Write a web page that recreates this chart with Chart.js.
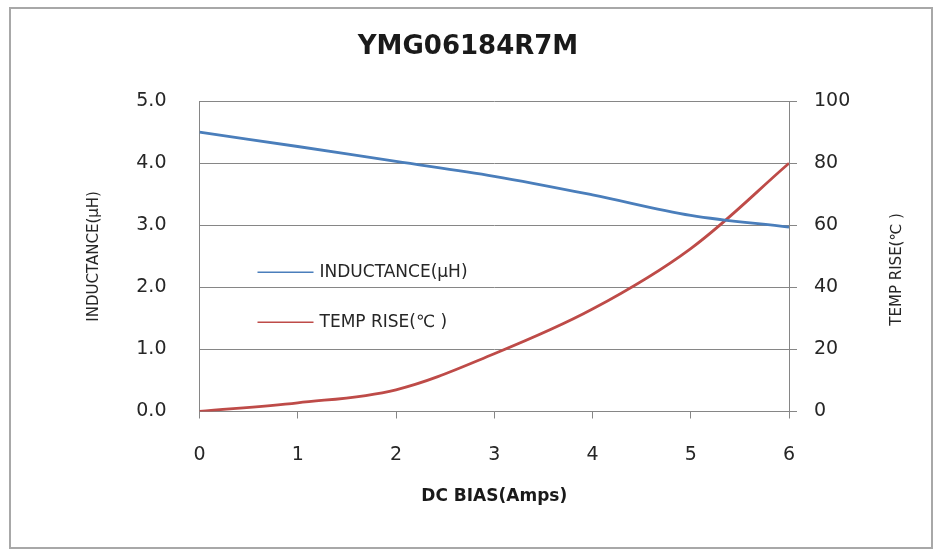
<!DOCTYPE html>
<html lang="en">
<head>
    <meta charset="UTF-8">
    <title>YMG06184R7M</title>
    <script src="https://cdn.jsdelivr.net/npm/chart.js"></script>
    <style>
        body { margin: 0; background: #fff; }
        canvas { display: block; }
    </style>
</head>
<body>
    <canvas id="chart" width="936" height="552"></canvas>

    <script>
        // DC bias points (Amps)
        const biasAmps = [0, 1, 2, 3, 4, 5, 6];
        // inductance, uH (left axis)
        const inductance = [4.5, 4.27, 4.03, 3.79, 3.49, 3.16, 2.97];
        // temperature rise, C (right axis)
        const tempRise = [0, 2.8, 7, 18.6, 33, 52.5, 80];

        const inductanceTicks = [0, 1, 2, 3, 4, 5];
        const tempTicks = [0, 20, 40, 60, 80, 100];

        const gridColor = '#868686';
        const textColor = '#262626';

        // frame, legend inside the plot and the right axis title
        const extras = {
            id: 'extras',
            beforeDraw(chart) {
                const ctx = chart.ctx;
                ctx.save();
                ctx.fillStyle = '#fff';
                ctx.fillRect(0, 0, chart.width, chart.height);
                ctx.strokeStyle = '#a8a8a8';
                ctx.lineWidth = 2;
                ctx.strokeRect(10, 8, chart.width - 14, chart.height - 12);
                ctx.restore();
            },
            afterDraw(chart) {
                const ctx = chart.ctx;
                const area = chart.chartArea;
                ctx.save();
                // legend
                ctx.font = '17px "DejaVu Sans"';
                ctx.textBaseline = 'middle';
                ctx.textAlign = 'left';
                chart.data.datasets.forEach((ds, i) => {
                    const y = area.top + 171 + i * 50;
                    ctx.strokeStyle = ds.borderColor;
                    ctx.lineWidth = 1.5;
                    ctx.beginPath();
                    ctx.moveTo(area.left + 58, y);
                    ctx.lineTo(area.left + 114, y);
                    ctx.stroke();
                    ctx.fillStyle = textColor;
                    ctx.fillText(ds.label, area.left + 120, y);
                });
                // right axis title, reads bottom to top like the left one
                const r = chart.scales.y1;
                ctx.translate(r.right - 39, (area.top + area.bottom) / 2 + 13);
                ctx.rotate(-Math.PI / 2);
                ctx.textAlign = 'center';
                ctx.font = '15px "DejaVu Sans"';
                ctx.fillText('TEMP RISE(℃ )', 0, 0);
                ctx.restore();
            }
        };

        const ctx = document.getElementById('chart').getContext('2d');
        new Chart(ctx, {
            type: 'line',
            data: {
                datasets: [{
                    label: 'INDUCTANCE(μH)',
                    data: biasAmps.map((x, i) => ({ x: x, y: inductance[i] })),
                    borderColor: '#4a7ebb',
                    borderWidth: 2.8,
                    pointRadius: 0,
                    tension: 0.35,
                    yAxisID: 'y'
                }, {
                    label: 'TEMP RISE(℃ )',
                    data: biasAmps.map((x, i) => ({ x: x, y: tempRise[i] })),
                    borderColor: '#be4b48',
                    borderWidth: 2.8,
                    pointRadius: 0,
                    tension: 0.35,
                    yAxisID: 'y1'
                }]
            },
            options: {
                responsive: false,
                animation: false,
                devicePixelRatio: 1,
                layout: { padding: 0 },
                plugins: {
                    legend: { display: false },
                    tooltip: { enabled: false },
                    title: {
                        display: true,
                        text: 'YMG06184R7M',
                        color: '#1a1a1a',
                        font: { family: 'DejaVu Sans', size: 26, weight: 'bold' },
                        padding: { top: 32, bottom: 38 }
                    }
                },
                scales: {
                    x: {
                        type: 'linear',
                        min: biasAmps[0],
                        max: biasAmps[biasAmps.length - 1],
                        afterBuildTicks: s => { s.ticks = biasAmps.map(v => ({ value: v })); },
                        afterFit: s => { s.height = 140.5; },
                        grid: { drawOnChartArea: false, color: gridColor, tickLength: 7 },
                        border: { color: gridColor },
                        ticks: {
                            color: textColor,
                            font: { family: 'DejaVu Sans', size: 19 },
                            padding: 25
                        },
                        title: {
                            display: true,
                            text: 'DC BIAS(Amps)',
                            color: '#1a1a1a',
                            font: { family: 'DejaVu Sans', size: 17, weight: 'bold' },
                            padding: { top: 0, bottom: 45 }
                        }
                    },
                    y: {
                        position: 'left',
                        min: 0,
                        max: 5,
                        afterBuildTicks: s => { s.ticks = inductanceTicks.map(v => ({ value: v })); },
                        afterFit: s => { s.width = 199.5; },
                        grid: { color: gridColor, drawTicks: false },
                        border: { color: gridColor },
                        ticks: {
                            color: textColor,
                            font: { family: 'DejaVu Sans', size: 19 },
                            padding: 33,
                            callback: v => v.toFixed(1)
                        },
                        title: {
                            display: true,
                            text: 'INDUCTANCE(μH)',
                            color: textColor,
                            font: { family: 'DejaVu Sans', size: 15 },
                            padding: { top: 85, bottom: 0 }
                        }
                    },
                    y1: {
                        position: 'right',
                        min: 0,
                        max: 100,
                        afterBuildTicks: s => { s.ticks = tempTicks.map(v => ({ value: v })); },
                        afterFit: s => { s.width = 147; },
                        grid: { drawOnChartArea: false, color: gridColor, tickLength: 8 },
                        border: { color: gridColor },
                        ticks: {
                            color: textColor,
                            font: { family: 'DejaVu Sans', size: 19 },
                            padding: 17
                        }
                    }
                }
            },
            plugins: [extras]
        });
    </script>
</body>
</html>
